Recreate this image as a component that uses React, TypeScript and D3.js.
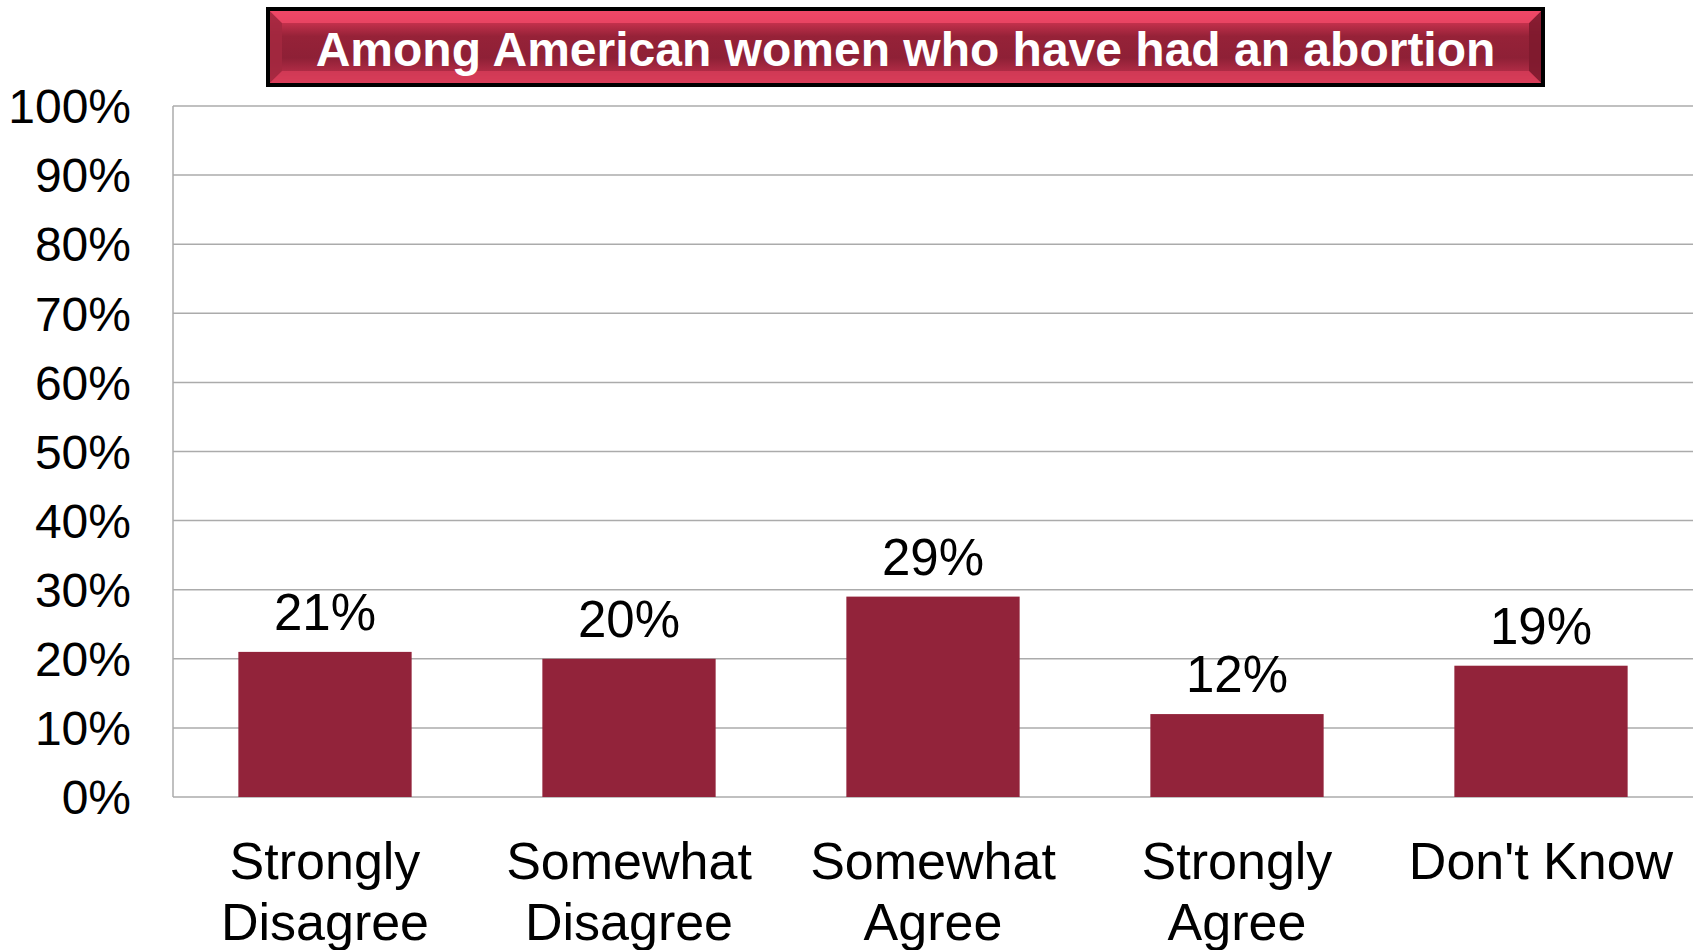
import React from "react";
import * as d3 from "d3";

const categories: string[][] = [
  ["Strongly", "Disagree"],
  ["Somewhat", "Disagree"],
  ["Somewhat", "Agree"],
  ["Strongly", "Agree"],
  ["Don't Know"],
];
const values: number[] = [21, 20, 29, 12, 19];
const yTicks: number[] = [0, 10, 20, 30, 40, 50, 60, 70, 80, 90, 100];
const title = "Among American women who have had an abortion";

const W = 1698;
const H = 950;
const plot = { left: 173, right: 1693, top: 106, bottom: 797 };
const FONT = "'Liberation Sans', Arial, sans-serif";

export default function App() {
  const x = d3
    .scaleBand<number>()
    .domain(values.map((_, i) => i))
    .range([plot.left, plot.right])
    .paddingInner(0)
    .paddingOuter(0);
  const y = d3.scaleLinear().domain([0, 100]).range([plot.bottom, plot.top]);
  const barW = x.bandwidth() * 0.57;

  const box = { x0: 266, y0: 7, x1: 1545, y1: 87 };
  const bev = 12;
  const ix0 = box.x0 + 4, iy0 = box.y0 + 4, ix1 = box.x1 - 4, iy1 = box.y1 - 4;

  return (
    <svg
      width={W}
      height={H}
      style={{ position: "absolute", left: 0, top: 0, background: "#fff" }}
      fontFamily={FONT}
    >
      <defs>
        <linearGradient id="tg" x1="0" y1="0" x2="0" y2="1">
          <stop offset="0" stopColor="#f2496a" />
          <stop offset="0.15" stopColor="#c8324e" />
          <stop offset="0.35" stopColor="#962238" />
          <stop offset="0.65" stopColor="#8e2036" />
          <stop offset="0.85" stopColor="#b22c46" />
          <stop offset="1" stopColor="#e8445f" />
        </linearGradient>
      </defs>

      {/* title box */}
      <rect x={box.x0} y={box.y0} width={box.x1 - box.x0} height={box.y1 - box.y0} fill="#000" />
      <rect x={ix0} y={iy0} width={ix1 - ix0} height={iy1 - iy0} fill="url(#tg)" />
      <polygon
        points={`${ix0},${iy0} ${ix0 + bev},${iy0 + bev} ${ix0 + bev},${iy1 - bev} ${ix0},${iy1}`}
        fill="#a3283f"
        opacity={0.9}
      />
      <polygon
        points={`${ix1},${iy0} ${ix1 - bev},${iy0 + bev} ${ix1 - bev},${iy1 - bev} ${ix1},${iy1}`}
        fill="#7e1a2e"
        opacity={0.9}
      />
      <polygon
        points={`${ix0},${iy0} ${ix1},${iy0} ${ix1 - bev},${iy0 + bev} ${ix0 + bev},${iy0 + bev}`}
        fill="#ee4866"
        opacity={0.85}
      />
      <polygon
        points={`${ix0},${iy1} ${ix1},${iy1} ${ix1 - bev},${iy1 - bev} ${ix0 + bev},${iy1 - bev}`}
        fill="#d63c58"
        opacity={0.85}
      />
      <text
        x={(box.x0 + box.x1) / 2}
        y={66}
        textAnchor="middle"
        fill="#fff"
        fontWeight="bold"
        fontSize={48}
      >
        {title}
      </text>

      {/* gridlines */}
      {yTicks.map((t) => (
        <line
          key={t}
          x1={plot.left}
          x2={plot.right}
          y1={y(t)}
          y2={y(t)}
          stroke="#ababab"
          strokeWidth={1.5}
        />
      ))}
      <line x1={plot.left} x2={plot.left} y1={plot.top} y2={plot.bottom} stroke="#ababab" strokeWidth={1.5} />

      {/* y tick labels */}
      {yTicks.map((t) => (
        <text
          key={t}
          x={131}
          y={y(t)}
          dy="0.36em"
          textAnchor="end"
          fontSize={48}
          fill="#000"
        >
          {`${t}%`}
        </text>
      ))}

      {/* bars */}
      {values.map((v, i) => {
        const cx = (x(i) as number) + x.bandwidth() / 2;
        return (
          <g key={i}>
            <rect
              x={cx - barW / 2}
              y={y(v)}
              width={barW}
              height={y(0) - y(v)}
              fill="#92233a"
            />
            <text x={cx} y={y(v) - 22} textAnchor="middle" fontSize={51} fill="#000">
              {`${v}%`}
            </text>
            {categories[i].map((line, j) => (
              <text
                key={j}
                x={cx}
                y={879 + j * 61}
                textAnchor="middle"
                fontSize={52}
                fill="#000"
              >
                {line}
              </text>
            ))}
          </g>
        );
      })}
    </svg>
  );
}
